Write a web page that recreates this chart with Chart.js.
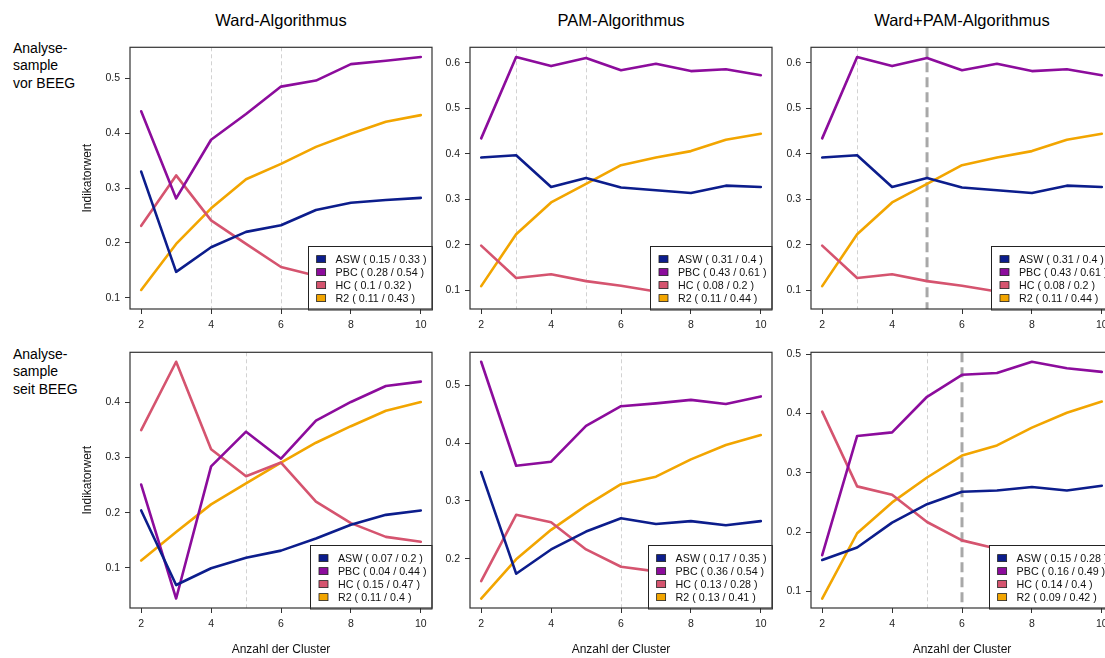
<!DOCTYPE html>
<html><head><meta charset="utf-8">
<script src="https://cdn.jsdelivr.net/npm/chart.js@4.4.0/dist/chart.umd.min.js"></script>
<style>
html,body{margin:0;padding:0;background:#fff;overflow:hidden;width:1105px;height:658px;position:relative}
canvas{position:absolute}
.t{position:absolute;font-family:'Liberation Sans',Arial,sans-serif;color:#000;white-space:nowrap}
.ct{font-size:16.5px;line-height:20px;text-align:center;width:300px}
.rl{font-size:14px;line-height:17.3px;left:13px}
</style></head><body>
<div class="t ct" style="left:131px;top:10px">Ward-Algorithmus</div>
<div class="t ct" style="left:471px;top:10px">PAM-Algorithmus</div>
<div class="t ct" style="left:812px;top:10px">Ward+PAM-Algorithmus</div>
<div class="t rl" style="top:40px">Analyse-<br>sample<br>vor BEEG</div>
<div class="t rl" style="top:346px">Analyse-<br>sample<br>seit BEEG</div>
<script>
// ---------- data ----------
const clusters = [2, 3, 4, 5, 6, 7, 8, 9, 10];
const xTickValues = [2, 4, 6, 8, 10];
const indicatorNames = ['ASW', 'PBC', 'HC', 'R2'];

// Analysesample vor BEEG
const wardVorASW = [0.330, 0.147, 0.192, 0.220, 0.232, 0.260, 0.273, 0.278, 0.282];
const wardVorPBC = [0.440, 0.281, 0.388, 0.435, 0.485, 0.496, 0.526, 0.532, 0.539];
const wardVorHC  = [0.231, 0.323, 0.241, 0.198, 0.156, 0.140, 0.126, 0.111, 0.097];
const wardVorR2  = [0.114, 0.198, 0.263, 0.316, 0.344, 0.375, 0.399, 0.421, 0.433];

const pamVorASW = [0.392, 0.397, 0.327, 0.347, 0.326, 0.320, 0.314, 0.330, 0.327];
const pamVorPBC = [0.434, 0.613, 0.593, 0.611, 0.584, 0.598, 0.582, 0.586, 0.573];
const pamVorHC  = [0.198, 0.127, 0.135, 0.120, 0.110, 0.097, 0.090, 0.085, 0.080];
const pamVorR2  = [0.109, 0.223, 0.293, 0.334, 0.375, 0.392, 0.406, 0.431, 0.444];

const wardPamVorASW = [0.392, 0.397, 0.327, 0.347, 0.326, 0.320, 0.314, 0.330, 0.327];
const wardPamVorPBC = [0.434, 0.613, 0.593, 0.611, 0.584, 0.598, 0.582, 0.586, 0.573];
const wardPamVorHC  = [0.198, 0.127, 0.135, 0.120, 0.110, 0.097, 0.090, 0.085, 0.080];
const wardPamVorR2  = [0.109, 0.223, 0.293, 0.334, 0.375, 0.392, 0.406, 0.431, 0.444];

// Analysesample seit BEEG
const wardSeitASW = [0.204, 0.0685, 0.099, 0.118, 0.131, 0.153, 0.178, 0.196, 0.204];
const wardSeitPBC = [0.251, 0.044, 0.284, 0.347, 0.298, 0.367, 0.401, 0.430, 0.438];
const wardSeitHC  = [0.350, 0.474, 0.315, 0.266, 0.291, 0.220, 0.181, 0.156, 0.147];
const wardSeitR2  = [0.113, 0.165, 0.215, 0.253, 0.291, 0.327, 0.357, 0.385, 0.401];

const pamSeitASW = [0.350, 0.174, 0.216, 0.247, 0.270, 0.260, 0.265, 0.258, 0.265];
const pamSeitPBC = [0.541, 0.361, 0.368, 0.430, 0.464, 0.469, 0.475, 0.468, 0.481];
const pamSeitHC  = [0.161, 0.276, 0.263, 0.216, 0.186, 0.178, 0.160, 0.145, 0.131];
const pamSeitR2  = [0.131, 0.199, 0.250, 0.292, 0.329, 0.342, 0.372, 0.397, 0.414];

const wardPamSeitASW = [0.153, 0.174, 0.216, 0.247, 0.268, 0.270, 0.276, 0.270, 0.278];
const wardPamSeitPBC = [0.161, 0.362, 0.368, 0.428, 0.465, 0.468, 0.487, 0.476, 0.470];
const wardPamSeitHC  = [0.403, 0.277, 0.263, 0.217, 0.186, 0.172, 0.160, 0.150, 0.141];
const wardPamSeitR2  = [0.088, 0.198, 0.250, 0.292, 0.329, 0.346, 0.376, 0.401, 0.420];

// y tick values per panel
const yTicksWardVor    = [0.1, 0.2, 0.3, 0.4, 0.5];
const yTicksPamVor     = [0.1, 0.2, 0.3, 0.4, 0.5, 0.6];
const yTicksWardPamVor = [0.1, 0.2, 0.3, 0.4, 0.5, 0.6];
const yTicksWardSeit   = [0.1, 0.2, 0.3, 0.4];
const yTicksPamSeit    = [0.2, 0.3, 0.4, 0.5];
const yTicksWardPamSeit= [0.1, 0.2, 0.3, 0.4, 0.5];

// marked cluster counts (vertical reference lines)
const lightMarks = [[4, 6], [3, 5], [3], [5], [6], [5]];
const boldMarks  = [[], [], [5], [], [], [6]];

// ---------- styles / layout ----------
const seriesColors = ['#0c1d8c', '#8c0c9c', '#d5546f', '#f2a500'];
const FONT = "'Liberation Sans', Arial, sans-serif";
Chart.defaults.font.family = FONT;
const colLeft = [130, 470, 811];
const rowTop = [42, 347];
const rowH = [267, 261];
const boxW = 302;

const panels = [
  {r:0, c:0, s:[wardVorASW, wardVorPBC, wardVorHC, wardVorR2], yt:yTicksWardVor},
  {r:0, c:1, s:[pamVorASW, pamVorPBC, pamVorHC, pamVorR2], yt:yTicksPamVor},
  {r:0, c:2, s:[wardPamVorASW, wardPamVorPBC, wardPamVorHC, wardPamVorR2], yt:yTicksWardPamVor},
  {r:1, c:0, s:[wardSeitASW, wardSeitPBC, wardSeitHC, wardSeitR2], yt:yTicksWardSeit},
  {r:1, c:1, s:[pamSeitASW, pamSeitPBC, pamSeitHC, pamSeitR2], yt:yTicksPamSeit},
  {r:1, c:2, s:[wardPamSeitASW, wardPamSeitPBC, wardPamSeitHC, wardPamSeitR2], yt:yTicksWardPamSeit}
];

const fmt = v => String(+v.toFixed(2));

const refLines = {
  id: 'refLines',
  beforeDatasetsDraw(chart, args, opts) {
    const {ctx, chartArea: ca} = chart;
    const xs = chart.scales.x;
    ctx.save();
    ctx.beginPath(); ctx.rect(ca.left, ca.top, ca.right - ca.left, ca.bottom - ca.top); ctx.clip();
    opts.light.forEach(v => {
      const px = Math.round(xs.getPixelForValue(v)) + 0.5;
      ctx.strokeStyle = '#d2d2d2'; ctx.lineWidth = 1; ctx.setLineDash([4, 3]);
      ctx.beginPath(); ctx.moveTo(px, ca.top); ctx.lineTo(px, ca.bottom); ctx.stroke();
    });
    opts.bold.forEach(v => {
      const px = xs.getPixelForValue(v);
      ctx.strokeStyle = '#a8a8a8'; ctx.lineWidth = 3; ctx.setLineDash([10, 5]);
      ctx.beginPath(); ctx.moveTo(px, ca.top); ctx.lineTo(px, ca.bottom); ctx.stroke();
    });
    ctx.restore();
  }
};

const rLegend = {
  id: 'rLegend',
  afterDatasetsDraw(chart) {
    const {ctx, chartArea: ca} = chart;
    ctx.save();
    ctx.font = "10.7px " + FONT;
    const labels = chart.data.datasets.map(ds => {
      const ys = ds.data.map(p => p.y);
      return ds.label + ' ( ' + fmt(Math.min(...ys)) + ' / ' + fmt(Math.max(...ys)) + ' )';
    });
    const maxW = Math.max(...labels.map(l => ctx.measureText(l).width));
    const w = 8.5 + 9 + 10 + maxW + 5.5, h = 63.5;
    const x0 = ca.right - w, y0 = ca.bottom - h;
    ctx.fillStyle = '#fff'; ctx.fillRect(x0, y0, w, h);
    ctx.strokeStyle = '#222'; ctx.lineWidth = 1;
    ctx.strokeRect(Math.round(x0) + 0.5, Math.round(y0) + 0.5, w, h);
    labels.forEach((l, i) => {
      const y = y0 + 13.6 + i * 13;
      ctx.fillStyle = chart.data.datasets[i].borderColor;
      ctx.fillRect(x0 + 8.5, y - 3.5, 9, 7);
      ctx.strokeStyle = '#222'; ctx.lineWidth = 0.8;
      ctx.strokeRect(x0 + 8.5, y - 3.5, 9, 7);
      ctx.fillStyle = '#111'; ctx.textBaseline = 'middle'; ctx.textAlign = 'left';
      ctx.fillText(l, x0 + 27.5, y + 0.5);
    });
    ctx.restore();
  },
  afterDraw(chart) {
    const {ctx, chartArea: ca} = chart;
    ctx.save();
    ctx.strokeStyle = '#333'; ctx.lineWidth = 1.2;
    ctx.strokeRect(ca.left, ca.top, ca.right - ca.left, ca.bottom - ca.top);
    ctx.restore();
  }
};

panels.forEach((p, idx) => {
  const yw = p.c === 0 ? 70 : 40;
  const xh = p.r === 0 ? 30 : 50;
  const padTop = 6, padRight = 6;
  const cv = document.createElement('canvas');
  const W = yw + boxW + padRight, H = padTop + rowH[p.r] + xh;
  cv.width = W; cv.height = H;
  cv.style.width = W + 'px'; cv.style.height = H + 'px';
  cv.style.left = (colLeft[p.c] - yw) + 'px';
  cv.style.top = (rowTop[p.r] - padTop) + 'px';
  document.body.appendChild(cv);

  const all = p.s.flat();
  const lo = Math.min(...all), hi = Math.max(...all);
  const ext = 0.04 * (hi - lo);
  const xlo = Math.min(...clusters), xhi = Math.max(...clusters);
  const xext = 0.04 * (xhi - xlo);

  new Chart(cv, {
    type: 'line',
    data: {
      datasets: p.s.map((vals, i) => ({
        label: indicatorNames[i],
        data: clusters.map((c, j) => ({x: c, y: vals[j]})),
        borderColor: seriesColors[i],
        backgroundColor: seriesColors[i],
        borderWidth: 2.6,
        pointRadius: 0,
        tension: 0,
        fill: false,
        borderCapStyle: 'round',
        borderJoinStyle: 'round'
      }))
    },
    options: {
      responsive: false,
      devicePixelRatio: 1,
      animation: false,
      events: [],
      layout: {padding: {top: padTop, right: padRight, left: 0, bottom: 0}},
      plugins: {
        legend: {display: false},
        tooltip: {enabled: false},
        refLines: {light: lightMarks[idx], bold: boldMarks[idx]}
      },
      scales: {
        x: {
          type: 'linear',
          min: xlo - xext, max: xhi + xext,
          afterBuildTicks: s => { s.ticks = xTickValues.map(v => ({value: v})); },
          afterFit: s => { s.height = xh; },
          grid: {drawOnChartArea: false, drawTicks: true, tickLength: 5, color: '#333', lineWidth: 1},
          border: {display: false},
          ticks: {font: {size: 10.5}, color: '#222', padding: 5, maxRotation: 0, autoSkip: false,
                  callback: v => String(v)},
          title: {display: p.r === 1, text: 'Anzahl der Cluster', font: {size: 12}, color: '#111',
                  padding: {top: 0, bottom: 1}}
        },
        y: {
          type: 'linear',
          min: lo - ext, max: hi + ext,
          afterBuildTicks: s => { s.ticks = p.yt.map(v => ({value: v})); },
          afterFit: s => { s.width = yw; },
          grid: {drawOnChartArea: false, drawTicks: true, tickLength: 5, color: '#333', lineWidth: 1},
          border: {display: false},
          ticks: {font: {size: 10.5}, color: '#222', padding: 5, autoSkip: false,
                  callback: v => v.toFixed(1)},
          title: {display: p.c === 0, text: 'Indikatorwert', font: {size: 12}, color: '#111',
                  padding: {top: 20, bottom: 0}}
        }
      }
    },
    plugins: [refLines, rLegend]
  });
});
</script>
</body></html>
